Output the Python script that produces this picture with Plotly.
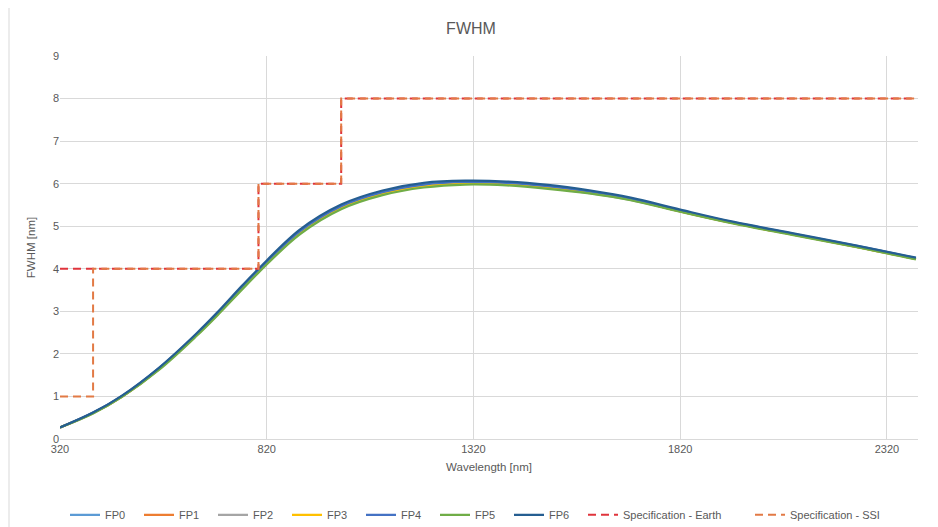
import plotly.graph_objects as go

wavelength = [320, 400, 470, 560, 650, 700, 760, 800, 900, 1000, 1100, 1200,
              1300, 1400, 1500, 1600, 1700, 1820, 1950, 2100, 2250, 2390]

fp0 = [0.27, 0.61, 1.00, 1.66, 2.45, 2.93, 3.55, 3.95, 4.86, 5.45, 5.78, 5.96,
       6.02, 6.00, 5.92, 5.80, 5.64, 5.36, 5.08, 4.80, 4.52, 4.24]
fp1 = [0.27, 0.61, 1.00, 1.65, 2.44, 2.92, 3.54, 3.94, 4.85, 5.44, 5.77, 5.95,
       6.01, 5.99, 5.91, 5.79, 5.63, 5.35, 5.07, 4.79, 4.51, 4.23]
fp2 = [0.27, 0.61, 1.00, 1.65, 2.44, 2.92, 3.54, 3.94, 4.84, 5.43, 5.76, 5.94,
       6.00, 5.98, 5.90, 5.78, 5.62, 5.35, 5.07, 4.79, 4.51, 4.23]
fp3 = [0.27, 0.61, 1.00, 1.65, 2.44, 2.92, 3.54, 3.94, 4.85, 5.44, 5.77, 5.95,
       6.01, 5.99, 5.91, 5.79, 5.63, 5.35, 5.07, 4.79, 4.51, 4.23]
fp4 = [0.27, 0.62, 1.01, 1.67, 2.46, 2.95, 3.57, 3.97, 4.88, 5.47, 5.80, 5.98,
       6.04, 6.02, 5.94, 5.82, 5.65, 5.37, 5.09, 4.81, 4.53, 4.25]
fp5 = [0.27, 0.60, 0.99, 1.63, 2.42, 2.90, 3.51, 3.91, 4.81, 5.40, 5.73, 5.91,
       5.98, 5.96, 5.88, 5.77, 5.61, 5.34, 5.06, 4.78, 4.50, 4.22]
fp6 = [0.27, 0.62, 1.02, 1.68, 2.48, 2.97, 3.60, 4.00, 4.92, 5.51, 5.84, 6.02,
       6.07, 6.05, 5.97, 5.84, 5.67, 5.39, 5.10, 4.82, 4.54, 4.26]

earth_x = [320, 800, 800, 1000, 1000, 2392]
earth_y = [4, 4, 6, 6, 8, 8]
ssi_x = [320, 400, 400, 800, 800, 1000, 1000, 2392]
ssi_y = [1, 1, 4, 4, 6, 6, 8, 8]

x_ticks = [320, 820, 1320, 1820, 2320]
y_ticks = [0, 1, 2, 3, 4, 5, 6, 7, 8, 9]

series = [
    ("FP0", fp0, "#5B9BD5"),
    ("FP1", fp1, "#ED7D31"),
    ("FP2", fp2, "#A5A5A5"),
    ("FP3", fp3, "#FFC000"),
    ("FP4", fp4, "#4472C4"),
    ("FP5", fp5, "#70AD47"),
    ("FP6", fp6, "#255E91"),
]

fig = go.Figure()
for name, vals, col in series:
    fig.add_trace(go.Scatter(x=wavelength, y=vals, name=name, mode="lines", legendwidth=29,
                             line=dict(color=col, width=2.25, shape="spline", smoothing=1.0)))

fig.add_trace(go.Scatter(x=earth_x, y=earth_y, name="Specification - Earth", mode="lines",
                         legendwidth=122,
                         line=dict(color="#E0343C", width=2, dash="8px,5px")))
fig.add_trace(go.Scatter(x=ssi_x, y=ssi_y, name="Specification - SSI", mode="lines",
                         legendwidth=100,
                         line=dict(color="#E27A45", width=2, dash="8px,5px")))

font_family = "Liberation Sans Narrow, Liberation Sans, Arial, sans-serif"
grey = "#595959"

fig.update_layout(
    width=938, height=527,
    margin=dict(l=52, r=28, t=48, b=96, autoexpand=False),
    paper_bgcolor="white", plot_bgcolor="white",
    title=dict(text="FWHM", x=463 / 938, xanchor="center", y=1 - 20 / 527, yanchor="middle",
               font=dict(family=font_family, size=16, color=grey)),
    font=dict(family=font_family, color=grey, size=11),
    showlegend=True,
    legend=dict(orientation="h", x=(57 - 52) / 858, xanchor="left", y=-0.198, yanchor="middle",
                font=dict(size=11, color=grey), tracegroupgap=0),
    xaxis=dict(range=[320, 2395], tickvals=x_ticks, ticktext=[str(v) for v in x_ticks],
               showgrid=True, gridcolor="#D9D9D9", gridwidth=1, zeroline=False,
               showline=True, linecolor="#D9D9D9", ticks="", automargin=False,
               tickfont=dict(size=11, color=grey),
               title=dict(text="Wavelength [nm]", font=dict(size=11.5, color=grey), standoff=8)),
    yaxis=dict(range=[0, 9], tickvals=y_ticks, showgrid=True, gridcolor="#D9D9D9",
               gridwidth=1, zeroline=False, showline=False, ticks="", automargin=False,
               tickfont=dict(size=11, color=grey),
               title=dict(text="FWHM [nm]", font=dict(size=11.5, color=grey), standoff=14)),
    shapes=[dict(type="line", xref="paper", yref="paper", x0=(1 - 52) / 858, x1=(1 - 52) / 858,
                 y0=-0.25, y1=1.13, line=dict(color="#D9D9D9", width=1))],
)

fig.write_html("out.html")
